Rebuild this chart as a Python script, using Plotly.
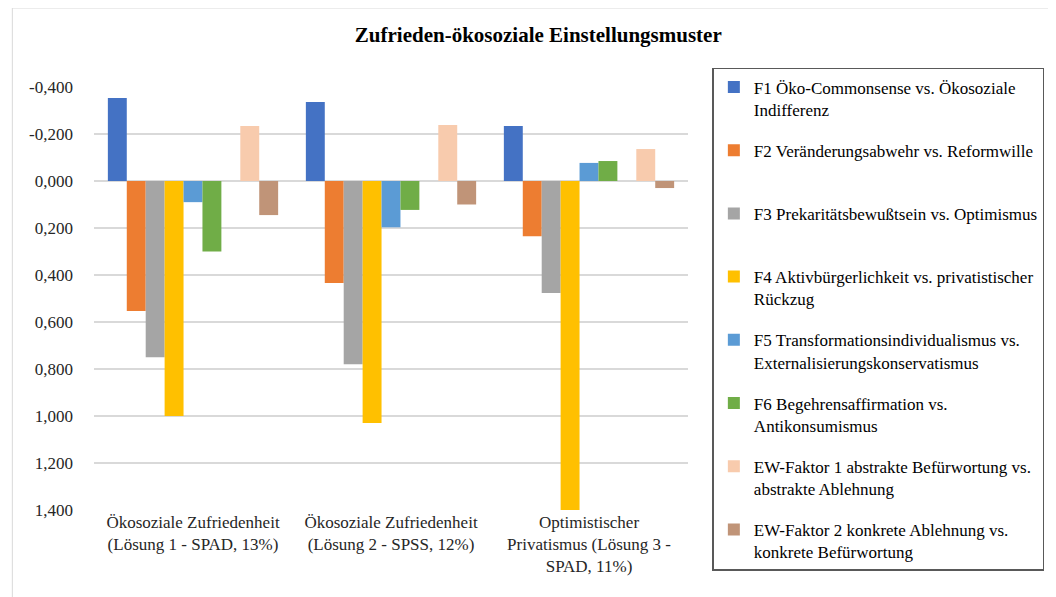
import plotly.graph_objects as go

# category labels (x axis) and series values
categories = [
    "Ökosoziale Zufriedenheit<br>(Lösung 1 - SPAD, 13%)",
    "Ökosoziale Zufriedenheit<br>(Lösung 2 - SPSS, 12%)",
    "Optimistischer<br>Privatismus (Lösung 3 -<br>SPAD, 11%)",
]

series_names = [
    "F1 Öko-Commonsense vs. Ökosoziale<br>Indifferenz",
    "F2 Veränderungsabwehr vs. Reformwille<br> ",
    "F3 Prekaritätsbewußtsein vs. Optimismus<br> ",
    "F4 Aktivbürgerlichkeit vs. privatistischer<br>Rückzug",
    "F5 Transformationsindividualismus vs.<br>Externalisierungskonservatismus",
    "F6 Begehrensaffirmation vs.<br>Antikonsumismus",
    "EW-Faktor 1 abstrakte Befürwortung vs.<br>abstrakte Ablehnung",
    "EW-Faktor 2 konkrete Ablehnung vs.<br>konkrete Befürwortung",
]

f1 = [-0.353, -0.336, -0.234]
f2 = [0.553, 0.434, 0.235]
f3 = [0.750, 0.780, 0.477]
f4 = [1.000, 1.030, 1.400]
f5 = [0.090, 0.197, -0.077]
f6 = [0.300, 0.123, -0.085]
ew1 = [-0.234, -0.238, -0.136]
ew2 = [0.145, 0.100, 0.030]

# empty series in the source chart (leaves a gap before the EW bars)
empty_slot = [None, None, None]

tick_vals = [-0.4, -0.2, 0.0, 0.2, 0.4, 0.6, 0.8, 1.0, 1.2, 1.4]
tick_text = ["-0,400", "-0,200", "0,000", "0,200", "0,400", "0,600",
             "0,800", "1,000", "1,200", "1,400"]

colors = ["#4472C4", "#ED7D31", "#A5A5A5", "#FFC000",
          "#5B9BD5", "#70AD47", "#F8CBAD", "#C09478"]

FONT = "Liberation Serif"

fig = go.Figure()

values = [f1, f2, f3, f4, f5, f6, ew1, ew2]
for i, (name, vals, col) in enumerate(zip(series_names, values, colors)):
    if i == 6:
        fig.add_trace(go.Bar(x=categories, y=empty_slot, showlegend=False,
                             hoverinfo="skip", marker_color="rgba(0,0,0,0)"))
    fig.add_trace(
        go.Bar(
            x=categories,
            y=vals,
            name=name,
            legendgroup=f"g{i}",
            marker=dict(color=col, line=dict(width=0)),
        )
    )

# page body has an 8px margin, so the figure is sized to fit the window
fig.update_layout(
    width=1048,
    height=589,
    paper_bgcolor="white",
    plot_bgcolor="white",
    barmode="group",
    bargap=0.14,
    bargroupgap=0,
    margin=dict(l=86, r=351, t=79, b=87),
    font=dict(family=FONT, color="#262626", size=17),
    title=dict(
        text="<b>Zufrieden-ökosoziale Einstellungsmuster</b>",
        font=dict(family=FONT, size=21, color="#000000"),
        x=0.506,
        xanchor="center",
        y=0.954,
        yanchor="middle",
    ),
    xaxis=dict(
        showgrid=False,
        showline=False,
        ticks="",
        tickfont=dict(size=17, color="#262626"),
        tickangle=0,
    ),
    yaxis=dict(
        range=[1.4, -0.4],
        tickvals=tick_vals,
        ticktext=tick_text,
        tickfont=dict(size=17, color="#262626"),
        gridcolor="#D9D9D9",
        gridwidth=1.5,
        zeroline=False,
        showline=False,
        ticklabelstandoff=20,
    ),
    legend=dict(
        x=1.041,
        y=1.045,
        xanchor="left",
        yanchor="top",
        valign="top",
        bgcolor="white",
        bordercolor="#595959",
        borderwidth=1.5,
        font=dict(family=FONT, size=17, color="#000000"),
        tracegroupgap=16,
        itemwidth=30,
        maxheight=700,
    ),
    shapes=[
        dict(
            type="rect",
            xref="paper",
            yref="paper",
            x0=-84 / 611,
            x1=1.65,
            y0=-0.3,
            y1=1 + 79 / 423,
            line=dict(color="#D9D9D9", width=1),
            layer="below",
        )
    ],
)

fig.write_html("out.html")
